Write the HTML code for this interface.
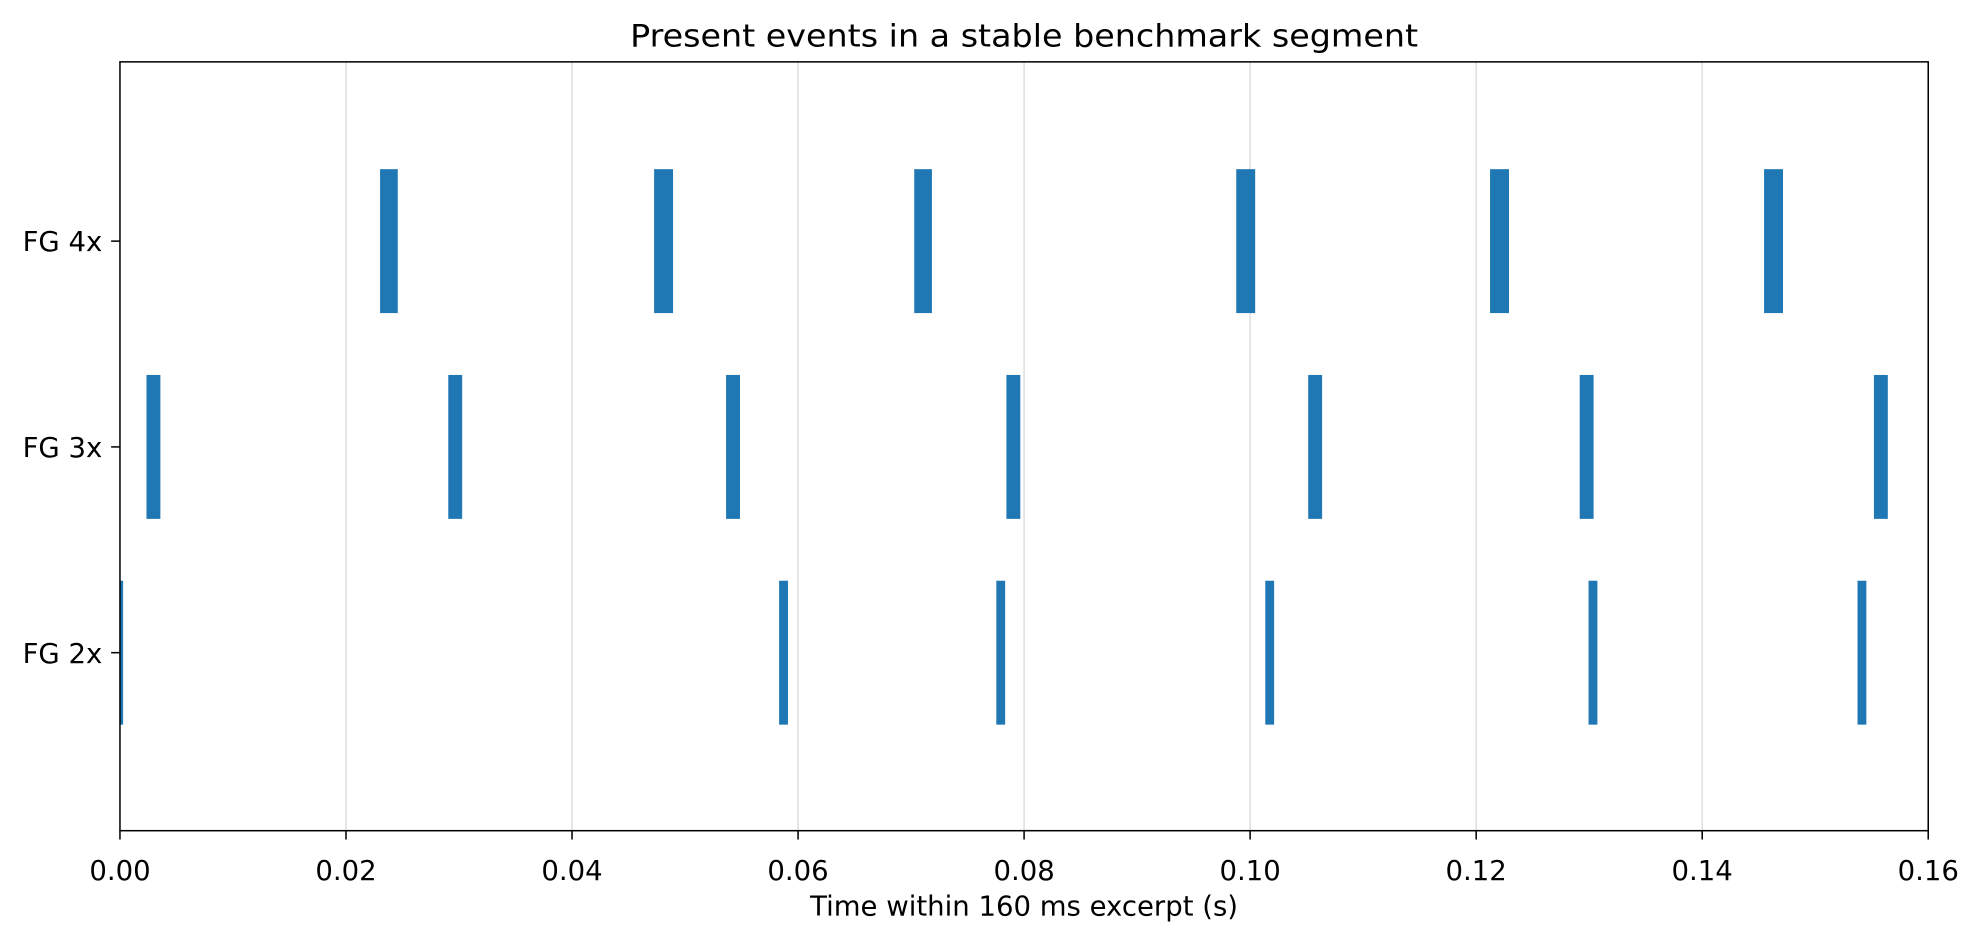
<!DOCTYPE html>
<html><head><style>body{margin:0;background:#fff}svg{display:block}</style></head><body>
<svg width="1980" height="938" viewBox="0 0 1568 743" preserveAspectRatio="none" xmlns="http://www.w3.org/2000/svg" font-family="DejaVu Sans, Liberation Sans, sans-serif">
<rect width="1568" height="743" fill="#fff"/>
<g stroke="#dedede" stroke-width="1.2">
<line x1="274" y1="49" x2="274" y2="658"/><line x1="453" y1="49" x2="453" y2="658"/><line x1="632" y1="49" x2="632" y2="658"/><line x1="811" y1="49" x2="811" y2="658"/><line x1="990" y1="49" x2="990" y2="658"/><line x1="1169" y1="49" x2="1169" y2="658"/><line x1="1348" y1="49" x2="1348" y2="658"/>
</g>
<g fill="#1f77b4">
<rect x="301" y="134" width="14" height="114"/><rect x="518" y="134" width="15" height="114"/><rect x="724" y="134" width="14" height="114"/><rect x="979" y="134" width="15" height="114"/><rect x="1180" y="134" width="15" height="114"/><rect x="1397" y="134" width="15" height="114"/>
<rect x="116" y="297" width="11" height="114"/><rect x="355" y="297" width="11" height="114"/><rect x="575" y="297" width="11" height="114"/><rect x="797" y="297" width="11" height="114"/><rect x="1036" y="297" width="11" height="114"/><rect x="1251" y="297" width="11" height="114"/><rect x="1484" y="297" width="11" height="114"/>
<rect x="95" y="460" width="2.5" height="114"/><rect x="617" y="460" width="7" height="114"/><rect x="789" y="460" width="7" height="114"/><rect x="1002" y="460" width="7" height="114"/><rect x="1258" y="460" width="7" height="114"/><rect x="1471" y="460" width="7" height="114"/>
</g>
<rect x="95" y="49" width="1432" height="609" fill="none" stroke="#000" stroke-width="1.2"/>
<g stroke="#000" stroke-width="1.2">
<line x1="88" y1="191" x2="95" y2="191"/><line x1="88" y1="354" x2="95" y2="354"/><line x1="88" y1="517" x2="95" y2="517"/>
<line x1="95" y1="658" x2="95" y2="665"/><line x1="274" y1="658" x2="274" y2="665"/><line x1="453" y1="658" x2="453" y2="665"/><line x1="632" y1="658" x2="632" y2="665"/><line x1="811" y1="658" x2="811" y2="665"/><line x1="990" y1="658" x2="990" y2="665"/><line x1="1169" y1="658" x2="1169" y2="665"/><line x1="1348" y1="658" x2="1348" y2="665"/><line x1="1527" y1="658" x2="1527" y2="665"/>
</g>
<g font-size="21.8" fill="#000">
<g text-anchor="end"><text x="81" y="199">FG 4x</text><text x="81" y="362">FG 3x</text><text x="81" y="525">FG 2x</text></g>
<g text-anchor="middle">
<text x="95" y="697">0.00</text><text x="274" y="697">0.02</text><text x="453" y="697">0.04</text><text x="632" y="697">0.06</text><text x="811" y="697">0.08</text><text x="990" y="697">0.10</text><text x="1169" y="697">0.12</text><text x="1348" y="697">0.14</text><text x="1527" y="697">0.16</text>
<text x="811" y="725">Time within 160 ms excerpt (s)</text>
</g>
<text x="499" y="37" font-size="24.8" textLength="624" lengthAdjust="spacingAndGlyphs">Present events in a stable benchmark segment</text>
</g>
</svg>
</body></html>
